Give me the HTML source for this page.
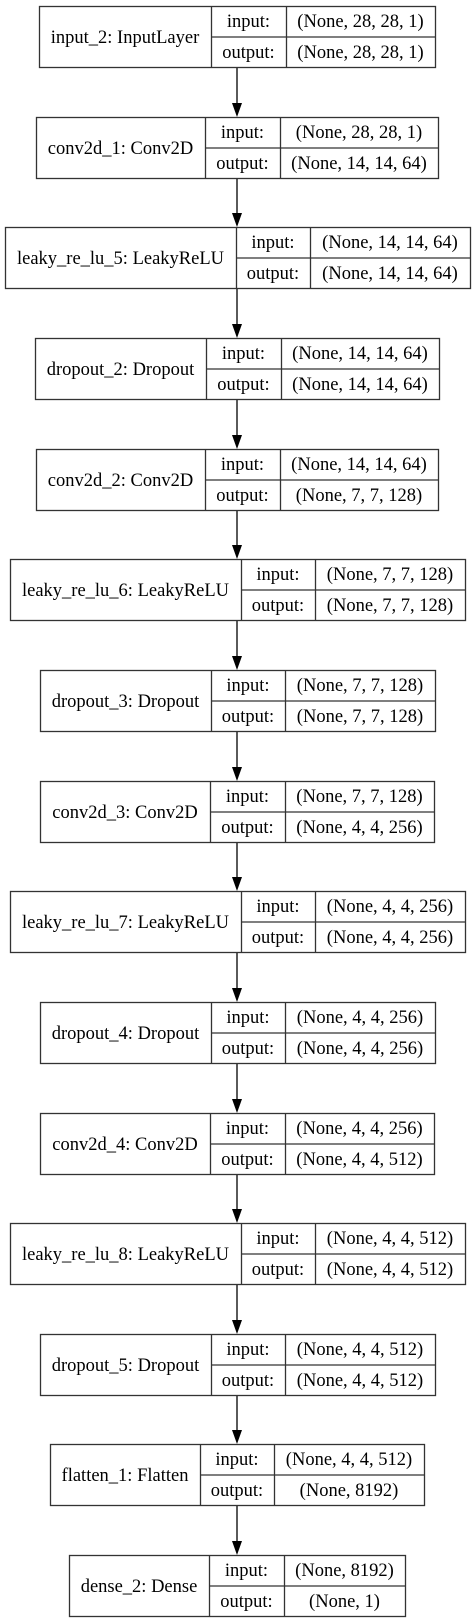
<!DOCTYPE html>
<html><head><meta charset="utf-8"><style>
html,body{margin:0;padding:0;background:#fff;}
svg{display:block;}
text{font-family:"Liberation Serif",serif;font-size:18.5px;fill:#000;}
</style></head><body>
<svg id="g" width="475" height="1623" viewBox="0 0 475 1623"></svg>
<script>
const layerNames=["input_2: InputLayer","conv2d_1: Conv2D","leaky_re_lu_5: LeakyReLU","dropout_2: Dropout","conv2d_2: Conv2D","leaky_re_lu_6: LeakyReLU","dropout_3: Dropout","conv2d_3: Conv2D","leaky_re_lu_7: LeakyReLU","dropout_4: Dropout","conv2d_4: Conv2D","leaky_re_lu_8: LeakyReLU","dropout_5: Dropout","flatten_1: Flatten","dense_2: Dense"];
const inputShapes=["(None, 28, 28, 1)","(None, 28, 28, 1)","(None, 14, 14, 64)","(None, 14, 14, 64)","(None, 14, 14, 64)","(None, 7, 7, 128)","(None, 7, 7, 128)","(None, 7, 7, 128)","(None, 4, 4, 256)","(None, 4, 4, 256)","(None, 4, 4, 256)","(None, 4, 4, 512)","(None, 4, 4, 512)","(None, 4, 4, 512)","(None, 8192)"];
const outputShapes=["(None, 28, 28, 1)","(None, 14, 14, 64)","(None, 14, 14, 64)","(None, 14, 14, 64)","(None, 7, 7, 128)","(None, 7, 7, 128)","(None, 7, 7, 128)","(None, 4, 4, 256)","(None, 4, 4, 256)","(None, 4, 4, 256)","(None, 4, 4, 512)","(None, 4, 4, 512)","(None, 4, 4, 512)","(None, 8192)","(None, 1)"];
// layout geometry
const tops=[6,117,227,338,449,559,670,781,891,1002,1113,1223,1334,1444,1555];
const geom=[[39,211,286,435],[36,205,280,438],[5,236,310,470],[35,206,281,439],[36,205,280,438],[10,241,315,465],[40,211,285,435],[40,210,285,434],[10,241,315,465],[40,211,285,435],[40,210,285,434],[10,241,315,465],[40,211,285,435],[50,200,274,424],[69,209,284,405]];
const H=61,CX=237;
const svg=document.getElementById('g');
const NS='http://www.w3.org/2000/svg';
function mk(tag,attrs,parent){const e=document.createElementNS(NS,tag);for(const k in attrs)e.setAttribute(k,attrs[k]);parent.appendChild(e);return e;}
function txt(x,y,s,parent){const t=mk('text',{x:x,y:y,'text-anchor':'middle','dominant-baseline':'central'},parent);t.textContent=s;return t;}
for(let i=0;i<layerNames.length-1;i++){
  const y1=tops[i]+H, y2=tops[i+1];
  const ln=mk('line',{x1:CX,y1:y1,x2:CX,y2:y2-13,stroke:'#000','stroke-width':1.3},svg);
  
  
  const p=mk('polygon',{points:(CX-5)+','+(y2-14)+' '+(CX+5)+','+(y2-14)+' '+CX+','+y2,fill:'#000'},svg);
  
  
}
for(let i=0;i<layerNames.length;i++){
  const [x0,d1,d2,x1]=geom[i], y=tops[i];
  const g=mk('g',{},svg);
  
  
  mk('rect',{x:x0+0.5,y:y+0.5,width:x1-x0,height:H,fill:'#fff',stroke:'#333','stroke-width':1.3},g);
  mk('line',{x1:d1+0.5,y1:y,x2:d1+0.5,y2:y+H+1,stroke:'#333','stroke-width':1.3},g);
  mk('line',{x1:d2+0.5,y1:y,x2:d2+0.5,y2:y+H+1,stroke:'#333','stroke-width':1.3},g);
  mk('line',{x1:d1,y1:y+31,x2:x1,y2:y+31,stroke:'#333','stroke-width':1.3},g);
  const t1=txt((x0+d1)/2,y+32,layerNames[i],g);
  
  
  const t2=txt((d1+d2)/2,y+16,'input:',g);
  
  
  const t3=txt((d1+d2)/2,y+47,'output:',g);
  
  
  const t4=txt((d2+x1)/2,y+16,inputShapes[i],g);
  
  
  const t5=txt((d2+x1)/2,y+47,outputShapes[i],g);
  
  
}
</script>
</body></html>
